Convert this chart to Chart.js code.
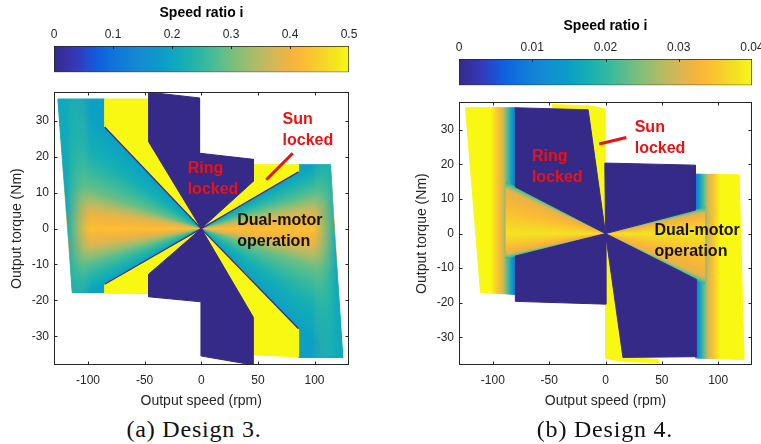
<!DOCTYPE html>
<html lang="en">
<head>
<meta charset="UTF-8"/>
<title>Speed ratio maps — Design 3 / Design 4</title>
<script src="https://cdn.jsdelivr.net/npm/chart.js@4/dist/chart.umd.min.js"></script>
<style>
  *{box-sizing:border-box;margin:0;padding:0}
  html,body{width:761px;height:444px;overflow:hidden;background:#fff}
  canvas{position:absolute}
  .cap{position:absolute;top:415px;width:300px;text-align:center;font:24px "Liberation Serif",serif;letter-spacing:.8px;line-height:28px;color:#111}
</style>
</head>
<body>
<canvas id="cb3" width="380" height="80" style="left:0;top:0"></canvas>
<canvas id="map3" width="380" height="330" style="left:0;top:80px"></canvas>
<canvas id="cb4" width="380" height="80" style="left:405px;top:13px"></canvas>
<canvas id="map4" width="380" height="320" style="left:405px;top:90px"></canvas>
<div class="cap" style="left:44px">(a) Design 3.</div>
<div class="cap" style="left:455px">(b) Design 4.</div>

<script>
// ── Axes / colour scales ─────────────────────────────────────────────────────
const speedLim = [-130, 130], speedStep = 50;
const torqueLim = [-38, 38], torqueStep = 10;
const cbar3 = [0, 0.5], cbarStep3 = 0.1;
const cbar4 = [0, 0.04], cbarStep4 = 0.01;

// ── Design 3 regions, vertices as [speed rpm, torque Nm] ────────────────────
const ring3 = [   // ring locked, i = 0
  [[-46.5, 38], [-1.5, 36.4], [-1.5, 21], [46, 19.3], [46, 13.2], [0, 0], [-46.5, 24.2]],
  [[-46.5, -12.7], [-46.5, -19], [0, -20.4], [0, -35.5], [46, -38], [46, -24.7], [0, 0]]
];
const sun3 = [    // sun locked, i at top of scale
  [[-85.3, 36.1], [-46.5, 36.1], [-46.5, 24.2], [0, 0], [-85.3, 28.3]],
  [[-85.3, -15.5], [0, 0], [-46.5, -12.7], [-46.5, -18.1], [-85.3, -18]],
  [[46, 17.8], [85.9, 17.8], [85.9, 15.8], [0, 0], [46, 13.2]],
  [[46, -24.7], [0, 0], [85.9, -27.9], [85.9, -35.7], [46, -35.2]]
];
const dual3 = [   // dual-motor operation
  [[-126.6, 36.1], [-85.3, 36.1], [-85.3, 28.3], [0, 0], [-85.3, -15.5], [-85.3, -17.8], [-113.9, -17.8]],
  [[0, 0], [85.9, 15.8], [85.9, 17.8], [114.1, 17.8], [125, -35.9], [85.9, -35.9], [85.9, -27.9]]
];
// ratio i read along rays from the origin: [speed, torque, i]
const dualRays3 = [
  [[-85.3, 28.3, 0.19], [-90, 20, 0.22], [-90, 10, 0.29], [-90, 4, 0.39], [-90, 0, 0.43], [-90, -4, 0.38], [-90, -9, 0.28], [-85.3, -15.5, 0.19]],
  [[85.9, 15.8, 0.19], [90, 9, 0.28], [90, 4, 0.38], [90, 0, 0.43], [90, -4, 0.39], [90, -10, 0.29], [90, -20, 0.22], [85.9, -27.9, 0.19]]
];
// outer rim of the dual-motor area, ratio by speed: [speed, i]
const rim3 = [
  [[-126.6, 36.1], [-96, 36.1], [-96, -17.8], [-113.9, -17.8]],
  [[96, 17.8], [114.1, 17.8], [125, -35.9], [96, -35.9]]
];
const rimRatio3 = [
  [[-98, 0.3], [-109, 0.25], [-119, 0.21]],
  [[98, 0.3], [109, 0.25], [119, 0.21]]
];
const edges3 = [
  [[-85.3, 28.3], [0, 0], [-85.3, -15.5]],
  [[85.9, 15.8], [0, 0], [85.9, -27.9]]
];

// ── Design 4 regions ─────────────────────────────────────────────────────────
const ring4 = [
  [[-80, 36.4], [-15.4, 35.8], [0, 0], [-80, 13.5]],
  [[-0.6, 20.4], [79.7, 19.8], [79.7, 6.8], [0, 0]],
  [[-80, -6.5], [0, 0], [0.3, -20.4], [-80, -19.6]],
  [[0, 0], [80.3, -13.2], [80.3, -35.6], [15.5, -35.8]]
];
const sun4 = [
  [[-47, 37.3], [-15, 37], [-0.6, 36.1], [-0.6, 20.4], [0, 0], [-15.4, 35.8], [-47, 36.4]],
  [[47, -37.3], [15, -37], [0.3, -36.1], [0.3, -20.4], [0, 0], [15.5, -35.8], [47, -36.4]]
];
const band4 = [   // dual-motor, beyond the ring-locked blocks
  [[-124.2, 36.4], [-80, 36.4], [-80, -17.6], [-110.9, -17]],
  [[80, 17.2], [118.5, 17], [123, -36.4], [80, -36]]
];
const bandRatio4 = [
  [[-80, 0.009], [-83, 0.014], [-87, 0.022], [-91, 0.03], [-96, 0.035], [-102, 0.04]],
  [[80, 0.009], [83, 0.014], [87, 0.022], [91, 0.03], [96, 0.035], [102, 0.04]]
];
const wedge4 = [  // dual-motor, between the blocks
  [[0, 0], [-88, 14.85], [-88, -7.15]],
  [[0, 0], [88, 7.5], [88, -14.5]]
];
const wedgeRays4 = [
  [[-80, 13.5, 0.02], [-80, 11.5, 0.031], [-85, 5, 0.035], [-90, 0, 0.038], [-85, -3, 0.035], [-80, -5.3, 0.031], [-80, -6.5, 0.02]],
  [[79.7, 6.8, 0.02], [80, 5.5, 0.031], [85, 3, 0.035], [90, 0, 0.038], [85, -5, 0.035], [80, -11.5, 0.031], [80.3, -13.2, 0.02]]
];

// ── Styling helpers ──────────────────────────────────────────────────────────
const FAMILY = '"Liberation Sans", Arial, Helvetica, sans-serif';
const INK = '#262626';
const TICK_FONT = {family: FAMILY, size: 12};
const LABEL_FONT = {family: FAMILY, size: 14};
const NOTE_FONT = `bold 16px ${FAMILY}`;
const RED = '#ee1111';

// parula-like colormap
const CMAP = [
  [0.00, '#352a87'], [0.08, '#3439bd'], [0.15, '#0f5fdf'], [0.22, '#1179d8'],
  [0.30, '#148dd1'], [0.37, '#0b9dc8'], [0.43, '#12adb7'], [0.50, '#2eb8a1'],
  [0.56, '#57bd8e'], [0.62, '#82be79'], [0.68, '#acbc66'], [0.74, '#d2b757'],
  [0.80, '#f1b43f'], [0.85, '#fcbc34'], [0.90, '#f6d02a'], [0.95, '#f4e31f'],
  [1.00, '#f8f812']
];
const rgb = h => [1, 3, 5].map(i => parseInt(h.slice(i, i + 2), 16));
function parula(f, alpha = 1) {
  f = Math.min(1, Math.max(0, f));
  let k = 0;
  while (k < CMAP.length - 2 && f > CMAP[k + 1][0]) k++;
  const [f0, h0] = CMAP[k], [f1, h1] = CMAP[k + 1];
  const u = (f - f0) / (f1 - f0), a = rgb(h0), b = rgb(h1);
  const c = a.map((v, i) => Math.round(v + (b[i] - v) * u));
  return `rgba(${c[0]},${c[1]},${c[2]},${alpha})`;
}

// fan fill: ratio changes with the direction from the origin
function rayFill(chart, rays, vmax) {
  const {ctx, chartArea, scales: {x, y}} = chart;
  if (!chartArea) return 'rgba(0,0,0,0)';
  const cx = x.getPixelForValue(0), cy = y.getPixelForValue(0);
  const ang = rays.map(([s, t]) => Math.atan2(y.getPixelForValue(t) - cy, x.getPixelForValue(s) - cx));
  const start = ang[Math.floor(ang.length / 2)] + Math.PI;
  const frac = a => { const f = (a - start) / (2 * Math.PI); return f - Math.floor(f); };
  const stops = rays.map((r, i) => [frac(ang[i]), r[2]]).sort((p, q) => p[0] - q[0]);
  const g = ctx.createConicGradient(start, cx, cy);
  stops.forEach(([f, v], i) => {
    g.addColorStop(f, parula(v / vmax));
    const nx = stops[i + 1];
    if (nx) for (let k = 1; k < 6; k++) {
      const u = k / 6;
      g.addColorStop(f + (nx[0] - f) * u, parula((v + (nx[1] - v) * u) / vmax));
    }
  });
  return g;
}

// fill that follows speed only; fade ramps it in from transparent
function speedFill(chart, stops, vmax, fade) {
  const {ctx, chartArea, scales: {x}} = chart;
  if (!chartArea) return 'rgba(0,0,0,0)';
  const p = stops.map(([s]) => x.getPixelForValue(s));
  const span = p[p.length - 1] - p[0];
  const g = ctx.createLinearGradient(p[0], 0, p[p.length - 1], 0);
  stops.forEach(([, v], i) => g.addColorStop((p[i] - p[0]) / span, parula(v / vmax, fade ? i / (stops.length - 1) : 1)));
  return g;
}

const poly = (pts, style, edge = 1) => ({
  data: pts.concat([pts[0]]).map(([x, y]) => ({x, y})),
  fill: 'shape', backgroundColor: style, borderColor: style, borderWidth: edge,
  pointRadius: 0, pointHoverRadius: 0
});
const path = (pts, color, width) => ({
  data: pts.map(([x, y]) => ({x, y})),
  fill: false, borderColor: color, borderWidth: width, pointRadius: 0, pointHoverRadius: 0
});

// ── Plugins ──────────────────────────────────────────────────────────────────
const frame = {
  id: 'frame',
  afterDatasetsDraw(chart) {
    const {ctx, chartArea: a, scales: {x, y}} = chart;
    const L = Math.round(a.left) + 0.5, R = Math.round(a.right) - 0.5;
    const T = Math.round(a.top) + 0.5, B = Math.round(a.bottom) - 0.5;
    ctx.save();
    ctx.strokeStyle = INK;
    ctx.lineWidth = 1;
    ctx.strokeRect(L, T, R - L, B - T);
    ctx.beginPath();
    for (const t of x.ticks) {
      const p = Math.round(x.getPixelForValue(t.value)) + 0.5;
      ctx.moveTo(p, B); ctx.lineTo(p, B - 3);
      ctx.moveTo(p, T); ctx.lineTo(p, T + 3);
    }
    for (const t of y.ticks) {
      const p = Math.round(y.getPixelForValue(t.value)) + 0.5;
      ctx.moveTo(L, p); ctx.lineTo(L + 3, p);
      ctx.moveTo(R, p); ctx.lineTo(R - 3, p);
    }
    ctx.stroke();
    ctx.restore();
  }
};

const notesPlugin = items => ({
  id: 'notes',
  afterDraw(chart) {
    const {ctx, scales: {x, y}} = chart;
    ctx.save();
    for (const n of items) {
      const px = x.getPixelForValue(n.at[0]), py = y.getPixelForValue(n.at[1]);
      if (n.to) {
        ctx.strokeStyle = n.color;
        ctx.lineWidth = 3;
        ctx.beginPath();
        ctx.moveTo(px, py);
        ctx.lineTo(x.getPixelForValue(n.to[0]), y.getPixelForValue(n.to[1]));
        ctx.stroke();
      } else {
        ctx.fillStyle = n.color;
        ctx.font = NOTE_FONT;
        ctx.textBaseline = 'middle';
        n.lines.forEach((t, i) => ctx.fillText(t, px, py + i * 21));
      }
    }
    ctx.restore();
  }
});

const cbarTicks = {
  id: 'cbarTicks',
  afterDatasetsDraw(chart) {
    const {ctx, chartArea: a, scales: {x}} = chart;
    ctx.save();
    ctx.strokeStyle = INK;
    ctx.lineWidth = 1;
    ctx.beginPath();
    x.ticks.slice(1, -1).forEach(t => {
      const p = Math.round(x.getPixelForValue(t.value)) + 0.5;
      ctx.moveTo(p, a.top); ctx.lineTo(p, a.top + 3);
    });
    ctx.stroke();
    ctx.restore();
  }
};

// ── Charts ───────────────────────────────────────────────────────────────────
function colorbar(id, lim, step, padRight) {
  return new Chart(document.getElementById(id), {
    type: 'bar',
    data: {
      labels: ['i'],
      datasets: [{
        data: [lim],
        backgroundColor: c => {
          const {ctx, chartArea: a} = c.chart;
          if (!a) return '#fff';
          const g = ctx.createLinearGradient(a.left, 0, a.right, 0);
          for (let k = 0; k <= 40; k++) g.addColorStop(k / 40, parula(k / 40));
          return g;
        },
        borderColor: INK, borderWidth: 1, borderSkipped: false,
        barPercentage: 1, categoryPercentage: 1
      }]
    },
    options: {
      indexAxis: 'y', responsive: false, animation: false, events: [],
      layout: {padding: {left: 54, right: padRight, top: 0, bottom: 7.7}},
      scales: {
        x: {
          position: 'top', min: lim[0], max: lim[1],
          ticks: {stepSize: step, padding: 4, color: INK, font: TICK_FONT, maxRotation: 0},
          grid: {display: false, drawTicks: false}, border: {display: false},
          title: {display: true, text: 'Speed ratio i', color: '#000',
                  font: {family: FAMILY, size: 14, weight: 'bold'}, padding: {top: 4.3, bottom: 0}},
          afterFit: s => { s.height = 46; }
        },
        y: {display: false}
      },
      plugins: {legend: {display: false}, tooltip: {enabled: false}}
    },
    plugins: [cbarTicks]
  });
}

function mapChart(id, layers, notes, padRight) {
  const datasets = layers.map((d, i) => ({...d, order: layers.length - i}));
  return new Chart(document.getElementById(id), {
    type: 'line',
    data: {datasets},
    options: {
      responsive: false, animation: false, events: [],
      layout: {padding: {left: 0, right: padRight, top: 9.3, bottom: 0}},
      scales: {
        x: {
          type: 'linear', min: speedLim[0], max: speedLim[1],
          ticks: {stepSize: speedStep, includeBounds: false, padding: 8, color: INK, font: TICK_FONT, maxRotation: 0},
          grid: {display: false, drawTicks: false}, border: {display: false},
          title: {display: true, text: 'Output speed (rpm)', color: INK, font: LABEL_FONT, padding: 0},
          afterFit: s => { s.height = 45; }
        },
        y: {
          type: 'linear', min: torqueLim[0], max: torqueLim[1],
          ticks: {stepSize: torqueStep, includeBounds: false, padding: 5, color: INK, font: TICK_FONT},
          grid: {display: false, drawTicks: false}, border: {display: false},
          title: {display: true, text: 'Output torque (Nm)', color: INK, font: LABEL_FONT, padding: {top: 9.2, bottom: 0}},
          afterFit: s => { s.width = 54; }
        }
      },
      plugins: {legend: {display: false}, tooltip: {enabled: false}}
    },
    plugins: [frame, notesPlugin(notes)]
  });
}

colorbar('cb3', cbar3, cbarStep3, 31);
colorbar('cb4', cbar4, cbarStep4, 33);

// layers listed bottom → top
const v3 = cbar3[1];
mapChart('map3', [
  ...dual3.map((p, i) => poly(p, c => rayFill(c.chart, dualRays3[i], v3))),
  ...rim3.map((p, i) => poly(p, c => speedFill(c.chart, rimRatio3[i], v3, true), 0)),
  ...sun3.map(p => poly(p, parula(1))),
  ...ring3.map(p => poly(p, parula(0))),
  ...edges3.map(p => path(p, parula(0), 1.3))
], [
  {lines: ['Ring', 'locked'], at: [-12, 16.6], color: RED},
  {lines: ['Sun', 'locked'], at: [71.8, 30.3], color: RED},
  {at: [80.8, 21], to: [57.4, 13.6], color: RED},
  {lines: ['Dual-motor', 'operation'], at: [31.8, 2.2], color: '#111'}
], 31.5);

const v4 = cbar4[1];
mapChart('map4', [
  ...band4.map((p, i) => poly(p, c => speedFill(c.chart, bandRatio4[i], v4, false))),
  ...wedge4.map((p, i) => poly(p, c => rayFill(c.chart, wedgeRays4[i], v4))),
  ...sun4.map(p => poly(p, parula(1))),
  ...ring4.map(p => poly(p, parula(0)))
], [
  {lines: ['Ring', 'locked'], at: [-65.3, 22.4], color: RED},
  {lines: ['Sun', 'locked'], at: [25.9, 30.8], color: RED},
  {at: [-5.6, 25.9], to: [18.5, 27.8], color: RED},
  {lines: ['Dual-motor', 'operation'], at: [43.5, 0.8], color: '#111'}
], 33);
</script>
</body>
</html>
